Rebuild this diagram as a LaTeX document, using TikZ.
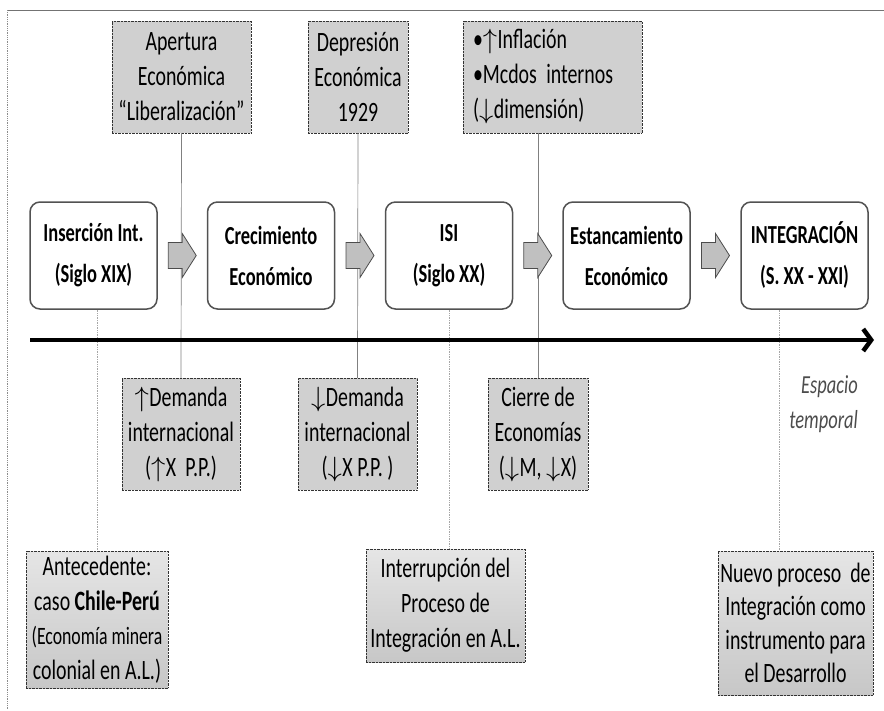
\documentclass[tikz,border=0pt]{standalone}
\usepackage{graphicx}
\usepackage{fontspec}
\setmainfont{Carlito}[FakeStretch=0.71]
\usetikzlibrary{arrows.meta,calc}
\newcommand\upar{\scalebox{1.15}[1.12]{$\uparrow$}\kern0.5pt}
\newcommand\dnar{\scalebox{1.15}[1.12]{$\downarrow$}\kern0.5pt}
\definecolor{boxgray}{HTML}{D0D0D0}
\definecolor{chevgray}{HTML}{C0C0C0}
\tikzset{
  graybox/.style={draw=black!80, densely dotted, fill=boxgray, align=center,
    inner sep=0pt, font=\fontsize{28}{35}\selectfont},
  gradbox/.style={graybox, top color=gray!20, bottom color=gray!44},
  stage/.style={draw=black!68, line width=1.5pt, rounded corners=10pt, fill=white,
    align=center, inner sep=0pt, minimum width=127pt, minimum height=107pt,
    font=\bfseries\fontsize{26}{41}\selectfont},
  link/.style={draw=black!50, line width=0.7pt},
  thinlink/.style={draw=black!35, densely dotted, line width=0.7pt},
  chev/.pic={\draw[draw=black!70, fill=chevgray, line width=0.8pt]
    (-14,-13) -- (0,-13) -- (0,-22) -- (14,0) -- (0,22) -- (0,13) -- (-14,13) -- cycle;}
}
\begin{document}
\begin{tikzpicture}[x=1pt,y=-1pt]
\useasboundingbox (0,0) rectangle (884,710);
% outer frame edges
\draw[black!55, line width=0.8pt] (7,10) -- (884,10);
\draw[black!45, densely dotted, line width=0.8pt] (7,10) -- (7,710);

% upper notes
\node[graybox, minimum width=139pt, minimum height=112pt] (ape) at (181.5,77)
  {Apertura\\Económica\\“Liberalización”};
\node[graybox, minimum width=100pt, minimum height=112pt] (dep) at (358,77)
  {Depresión\\Económica\\1929};
\node[graybox, minimum height=112pt, text width=159pt, inner xsep=10pt, align=left] (inf) at (552.5,77)
  {•\upar Inflación\\•Mcdos internos\\(\dnar dimensión)};

% stages
\node[stage] (ins) at (93.5,255.5) {Inserción Int.\\(Siglo XIX)};
\node[stage] (cre) at (271,255.5) {Crecimiento\\Económico};
\node[stage] (isi) at (449,255.5) {ISI\\(Siglo XX)};
\node[stage] (est) at (626.5,255.5) {Estancamiento\\Económico};
\node[stage] (integ) at (804.5,255.5) {INTEGRACIÓN\\(S. XX - XXI)};

% middle notes
\node[graybox, minimum width=118pt, minimum height=112pt] (dem1) at (181,434)
  {\upar Demanda\\internacional\\(\upar X\ \ P.P.)};
\node[graybox, minimum width=119pt, minimum height=112pt] (dem2) at (357.5,434)
  {\dnar Demanda\\internacional\\(\dnar X P.P. )};
\node[graybox, minimum width=100pt, minimum height=112pt] (cie) at (538,434)
  {Cierre de\\Economías\\(\dnar M, \dnar X)};

% lower notes
\node[gradbox, minimum width=142pt, minimum height=137pt] (ant) at (97,619.5)
  {Antecedente:\\caso \textbf{Chile-Perú}\\[-1pt]\fontsize{25}{30}\selectfont (Economía minera\\colonial en A.L.)};
\node[gradbox, minimum width=159pt, minimum height=113pt] (intr) at (445.5,605.5)
  {Interrupción del\\Proceso de\\Integración en A.L.};
\node[gradbox, minimum width=155pt, minimum height=144pt, font=\fontsize{28}{33.5}\selectfont] (nue) at (795.5,623)
  {Nuevo proceso\ \ de\\Integración como\\instrumento para\\el Desarrollo};

% connectors
\coordinate (nx) at (779,0);
\draw[link] (ape.south) -- (dem1.north);
\draw[link] (dep.south) -- (dem2.north);
\draw[link] (cie.north |- inf.south) -- (cie.north);
\draw[thinlink] (ins.south -| ant.north) -- (ant.north);
\draw[thinlink] (isi.south) -- (isi.south |- intr.north);
\draw[thinlink] (integ.south -| nx) -- (nue.north -| nx);

% block arrows between stages
\pic at ($(ins.east)!0.5!(cre.west)$) {chev};
\pic at ($(cre.east)!0.5!(isi.west)$) {chev};
\pic at ($(isi.east)!0.5!(est.west)$) {chev};
\pic at ($(est.east)!0.5!(integ.west)$) {chev};

% time axis
\coordinate (t0) at (30,340);
\coordinate (t1) at (874,340);
\draw[line width=4.5pt, -{Straight Barb[length=8pt, width=22pt]}] (t0) -- (t1);
\node[anchor=east, align=right, text=black!70, inner sep=0pt,
  font=\itshape\fontsize{26}{35}\selectfont] (esp) at (858,404) {Espacio\\temporal};
\end{tikzpicture}
\end{document}
